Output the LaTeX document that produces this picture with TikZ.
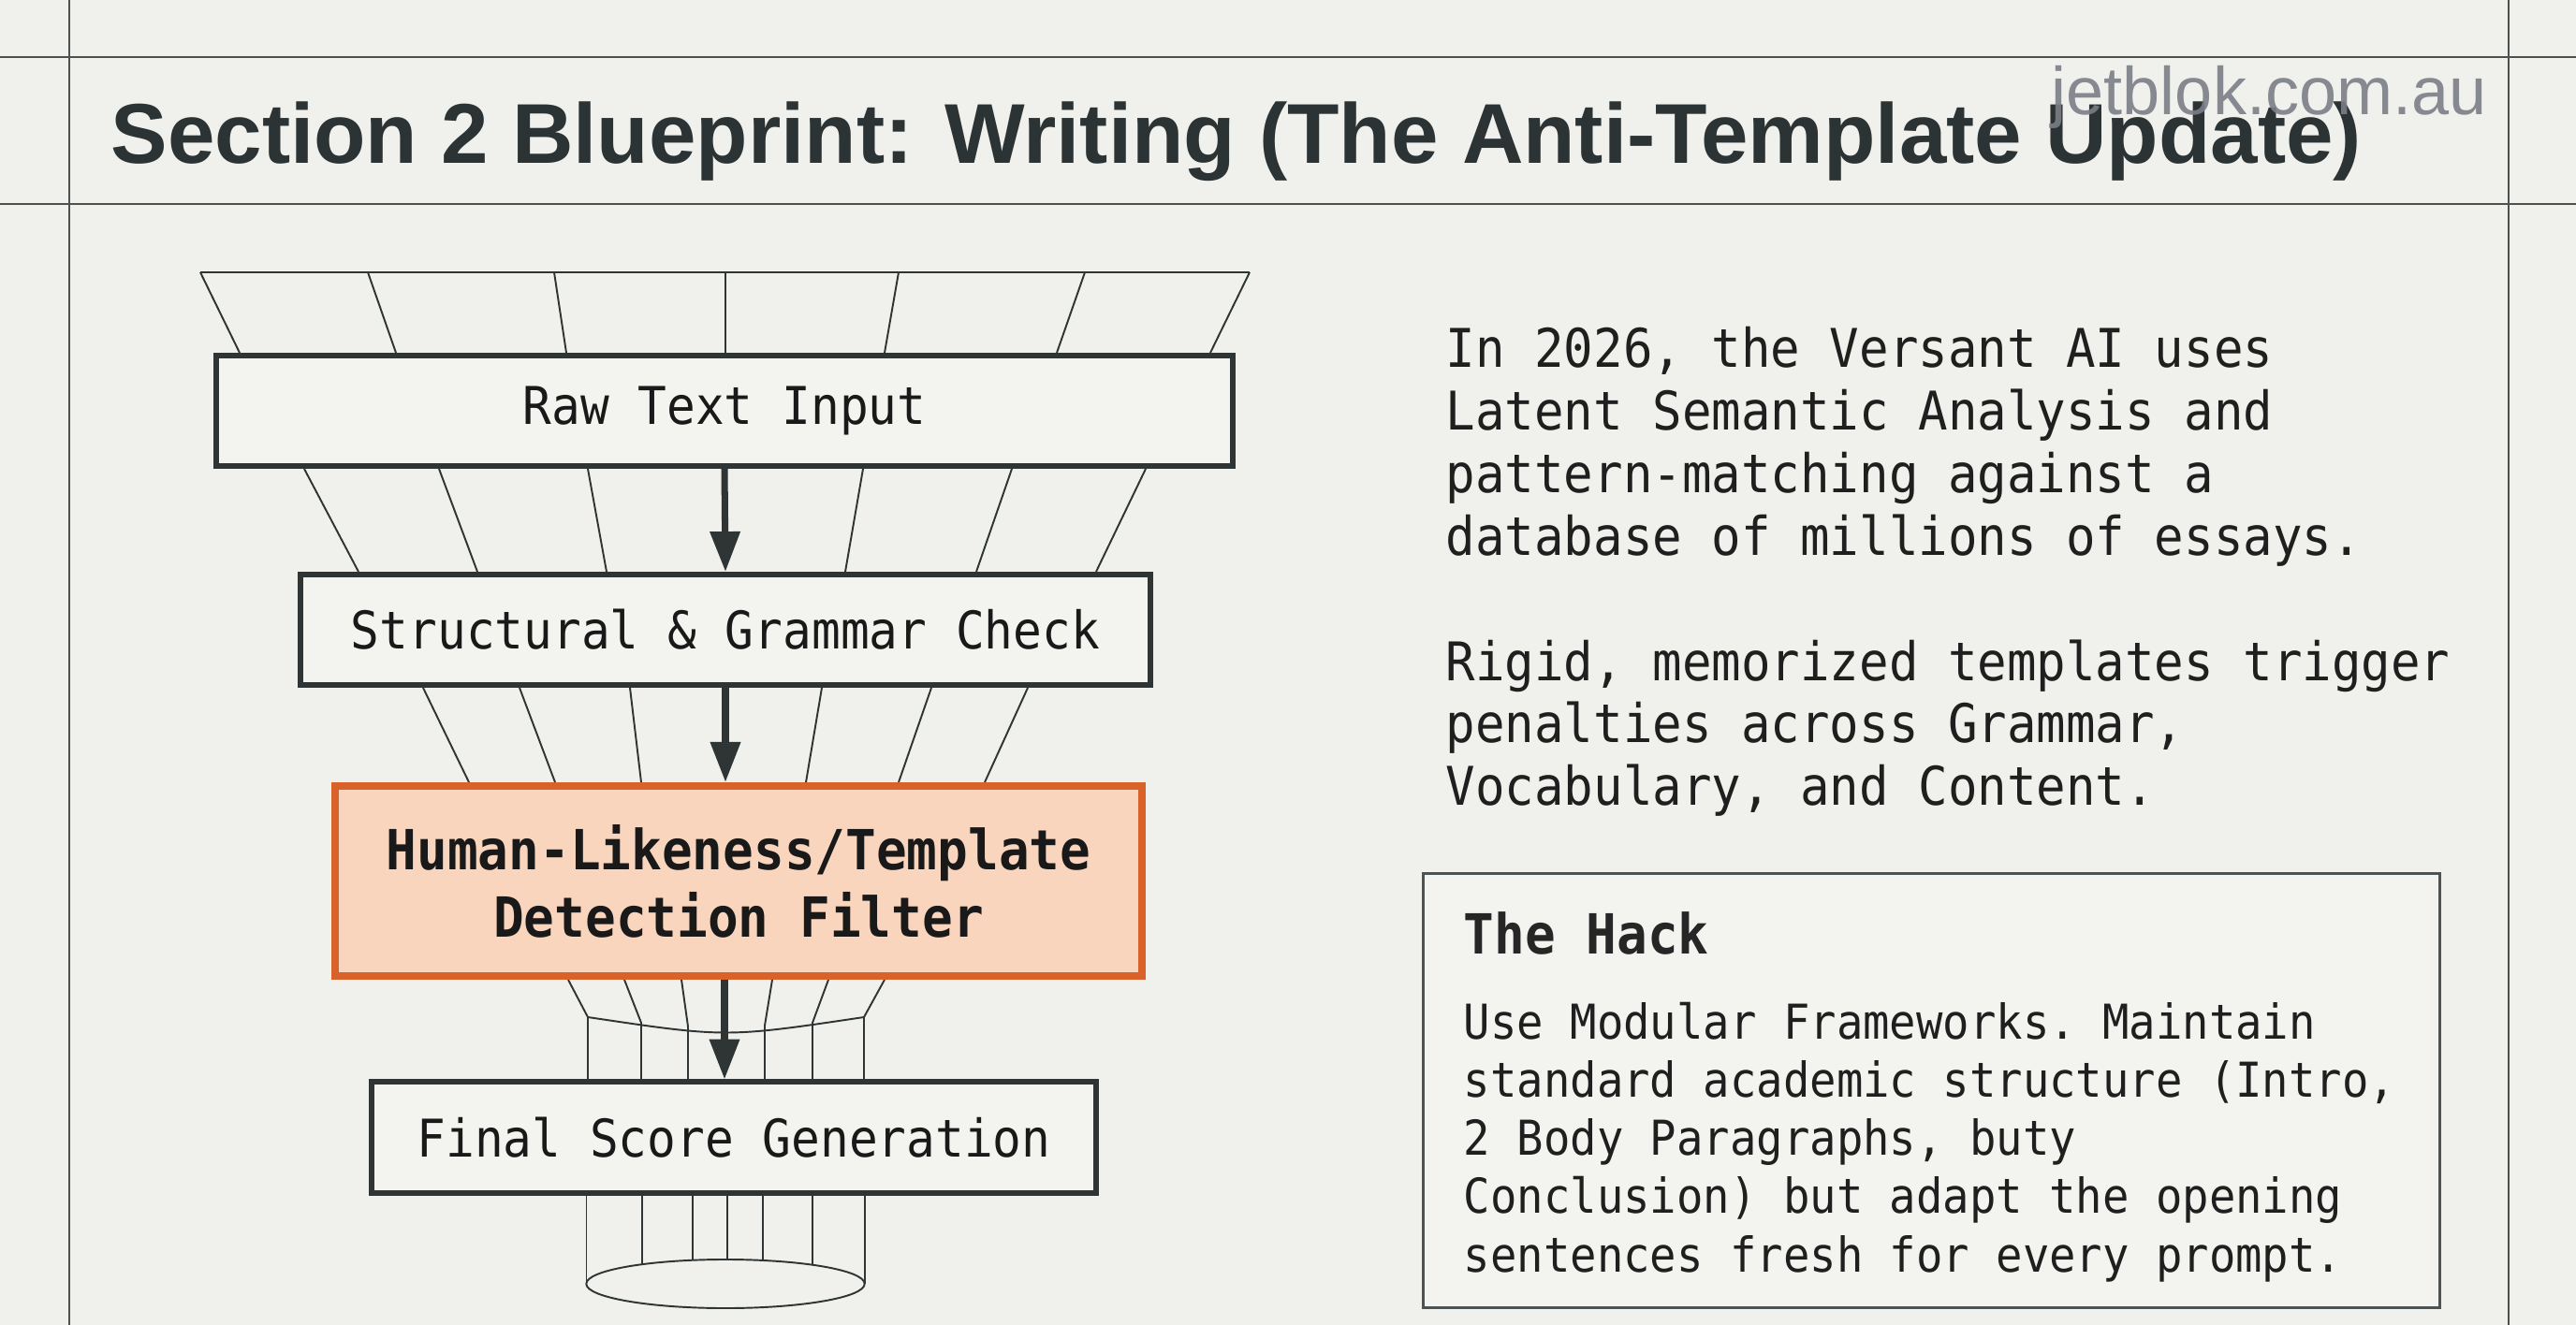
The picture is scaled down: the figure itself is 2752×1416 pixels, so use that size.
\documentclass[tikz,border=0pt]{standalone}
\usepackage{fontspec}
\setmainfont{Liberation Sans}
\setmonofont[FakeStretch=0.92]{DejaVu Sans Mono}
\usetikzlibrary{arrows.meta}
\usetikzlibrary{calc}

\definecolor{bgcol}{HTML}{F0F1EC}
\definecolor{boxfill}{HTML}{F3F4F0}
\definecolor{inkcol}{HTML}{2F3535}
\definecolor{titlecol}{HTML}{2C3335}
\definecolor{gridcol}{HTML}{4B5051}
\definecolor{hackcol}{HTML}{4D5253}
\definecolor{filterorange}{HTML}{D9622B}
\definecolor{filterfill}{HTML}{F9D5BD}
\definecolor{markcol}{HTML}{7C7E87}

% full-width spaces in the mono paragraphs
\newcommand\monospacing{\spaceskip=\fontcharwd\font`x\relax\xspaceskip=\spaceskip}

\tikzset{
  stagebox/.style={draw=inkcol,line width=1.7pt,fill=boxfill,inner sep=0pt,
    minimum height=1.18cm,text=black!90,
    font=\ttfamily\fontsize{15.8}{19}\selectfont},
  filterbox/.style={stagebox,draw=filterorange,line width=2.3pt,fill=filterfill,
    align=center,font=\ttfamily\bfseries\fontsize{16.8}{20.5}\selectfont},
  funnel/.style={draw=inkcol,line width=0.55pt},
  flow/.style={draw=inkcol,line width=2pt,-{Triangle[width=8.8pt,length=12.2pt]}},
  gridline/.style={draw=gridcol,line width=0.8pt},
  note/.style={anchor=base west,inner sep=0pt,text width=12cm,text=black!88,
    font=\ttfamily\fontsize{16.2}{18.98}\selectfont},
}

\begin{document}
\begin{tikzpicture}[x=0.01cm,y=-0.01cm]

  \fill[bgcol] (0,0) rectangle (2752,1416);
  \useasboundingbox (0,0) rectangle (2752,1416);

  % page grid
  \draw[gridline] (0,61) -- (2752,61);
  \draw[gridline] (0,218) -- (2752,218);
  \draw[gridline,line width=0.6pt] (74,0) -- (74,1416);
  \draw[gridline,line width=0.6pt] (2680,0) -- (2680,1416);

  \node[anchor=base west,inner sep=0pt,text=titlecol,
    font=\bfseries\fontsize{25.8}{30}\selectfont] (title) at (118,175)
    {Section 2 Blueprint: Writing (The Anti-Template Update)};
  \node[anchor=base west,inner sep=0pt,text=markcol,opacity=0.9,
    font=\fontsize{20.5}{24}\selectfont] (mark) at (2191,123) {jetblok.com.au};

  % funnel
  \draw[funnel] (214,291) -- (1335,291);
  \foreach \a/\b in {214/256,393/423,592/605,775/775,960/945,1159/1129,1335/1293}
    \draw[funnel] (\a,291) -- (\b,377);
  \foreach \a/\b in {325/383,469/510,628/648,922/903,1081/1043,1224/1171}
    \draw[funnel] (\a,501) -- (\b,611);
  \foreach \a/\b in {452/501,555/593,673/685,878/861,995/960,1098/1052}
    \draw[funnel] (\a,735) -- (\b,836);
  \foreach \a/\b/\c in {607/628/1087,667/685/1093,728/735/1097,825/817/1096,885/868/1093,945/923/1087}
    \draw[funnel] (\a,1047) -- (\b,\c) -- (\b,1154);
  \draw[funnel] (628,1087) .. controls (775.5,1109) .. (923,1087);
  \foreach \x in {626.5,685.8,740,777,815,867.6,923.7}
    \draw[funnel] (\x,1277) -- (\x,{1372-26*sqrt(max(0,1-((\x-775)/148.6)^2))});
  \draw[funnel] (775,1372) ellipse [x radius=1.486cm,y radius=0.26cm];

  % stages
  \node[stagebox,minimum width=10.86cm] (raw) at (774,439) {Raw Text Input};
  \node[stagebox,minimum width=9.08cm] (struct) at (775,673) {Structural \& Grammar Check};
  \node[filterbox,minimum width=8.61cm,minimum height=2.03cm] (filter) at (789,941.5)
    {Human-Likeness/Template\\Detection Filter};
  \node[stagebox,minimum width=7.74cm] (final) at (784,1215.5) {Final Score Generation};

  \draw[flow] (raw.south) -- (struct.north);
  \draw[flow] (struct.south) -- (filter.north -| struct.south);
  \draw[flow] (filter.south -| raw.south) -- (final.north -| raw.south);

  % explanation
  \node[note] (intro) at (1544,393)
    {\monospacing In 2026, the Versant AI uses\\Latent Semantic Analysis and\\pattern-matching against a\\database of millions of essays.};
  \node[note] (risk) at (1544,727)
    {\monospacing Rigid, memorized templates trigger\\penalties across Grammar,\\Vocabulary, and Content.};

  \node[draw=hackcol,line width=0.85pt,fill=boxfill,inner sep=0pt,
    minimum width=10.85cm,minimum height=4.64cm] (hack) at (2063.5,1165.5) {};
  \node[anchor=base west,inner sep=0pt,text=black!85,
    font=\ttfamily\bfseries\fontsize{16.8}{20}\selectfont] (hacktitle)
    at ($(hack.north west)+(44,88)$) {The Hack};
  \node[note,text width=10.2cm,font=\ttfamily\fontsize{14.6}{17.64}\selectfont] (hackbody)
    at ($(hack.north west)+(44,179)$)
    {\monospacing Use Modular Frameworks. Maintain\\standard academic structure (Intro,\\2 Body Paragraphs, buty\\Conclusion) but adapt the opening\\sentences fresh for every prompt.};

\end{tikzpicture}
\end{document}
